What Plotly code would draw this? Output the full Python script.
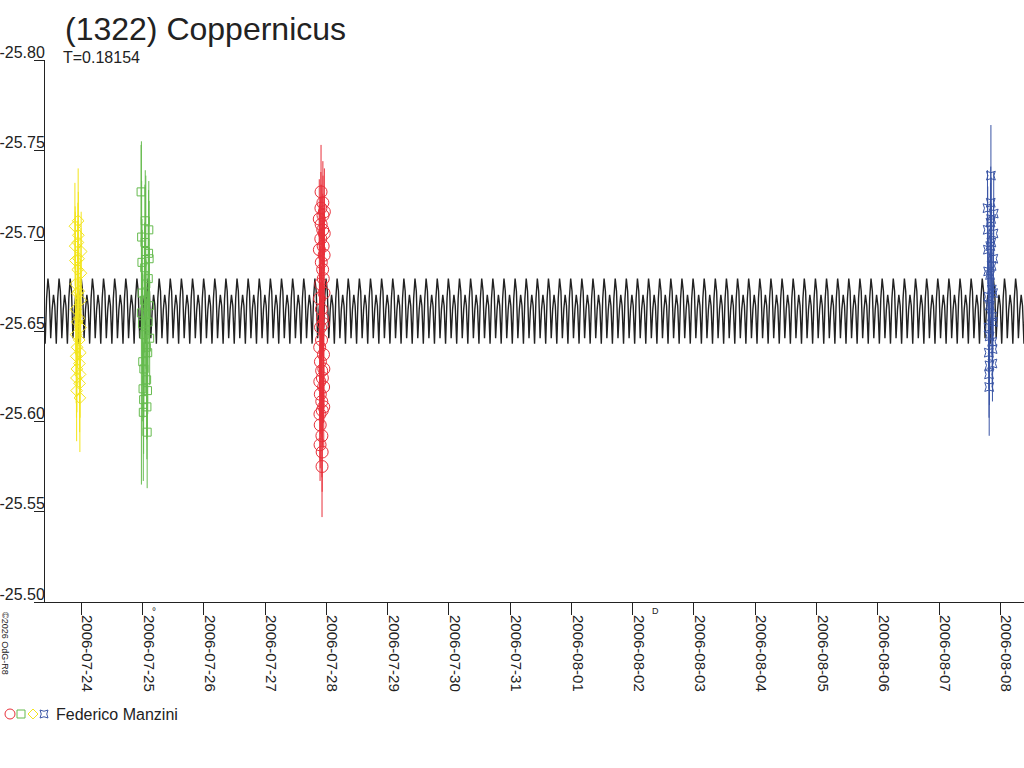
import pandas as pd
import plotly.graph_objects as go

# light curve data (days since 2006-07-24 00:00 UT, magnitudes, errors)
yellow_day = [-0.104, -0.100, -0.097, -0.093, -0.090, -0.086, -0.083, -0.079, -0.076, -0.072,
              -0.069, -0.065, -0.062, -0.058, -0.055, -0.051, -0.048, -0.044, -0.041, -0.037,
              -0.034, -0.030, -0.027, -0.023, -0.020, -0.016, -0.013, -0.009, -0.006, -0.002]
yellow_mag = [-25.708, -25.697, -25.689, -25.676, -25.662, -25.648, -25.636, -25.624, -25.617, -25.629,
              -25.641, -25.655, -25.671, -25.684, -25.699, -25.711, -25.703, -25.690, -25.672, -25.657,
              -25.645, -25.632, -25.621, -25.613, -25.626, -25.638, -25.652, -25.667, -25.682, -25.694]
yellow_err = [0.024, 0.022, 0.027, 0.021, 0.025, 0.023, 0.026, 0.022, 0.028, 0.024,
              0.021, 0.025, 0.023, 0.027, 0.022, 0.029, 0.024, 0.021, 0.026, 0.023,
              0.025, 0.022, 0.027, 0.030, 0.024, 0.021, 0.026, 0.023, 0.025, 0.022]

green_day = [0.976, 0.981, 0.985, 0.990, 0.994, 0.999, 1.003, 1.008, 1.012, 1.017,
             1.021, 1.026, 1.030, 1.035, 1.039, 1.044, 1.048, 1.053, 1.057, 1.062,
             1.066, 1.071, 1.075, 1.080, 1.084, 1.089, 1.093, 1.098, 1.102, 1.107,
             1.111, 1.116]
green_mag = [-25.727, -25.660, -25.702, -25.688, -25.671, -25.654, -25.633, -25.618, -25.605, -25.612,
             -25.629, -25.648, -25.667, -25.685, -25.699, -25.711, -25.694, -25.676, -25.659, -25.641,
             -25.623, -25.608, -25.594, -25.617, -25.638, -25.655, -25.679, -25.693, -25.706, -25.690,
             -25.664, -25.646]
green_err = [0.026, 0.095, 0.031, 0.024, 0.035, 0.028, 0.033, 0.026, 0.038, 0.030,
             0.027, 0.034, 0.029, 0.025, 0.032, 0.028, 0.036, 0.060, 0.030, 0.027,
             0.033, 0.029, 0.031, 0.026, 0.034, 0.028, 0.030, 0.035, 0.027, 0.032,
             0.029, 0.026]

red_day = [3.884, 3.886, 3.888, 3.891, 3.893, 3.895, 3.897, 3.899, 3.901, 3.903,
           3.905, 3.907, 3.909, 3.911, 3.913, 3.915, 3.917, 3.919, 3.921, 3.923,
           3.925, 3.927, 3.929, 3.931, 3.933, 3.935, 3.937, 3.939, 3.941, 3.943,
           3.945, 3.947, 3.949, 3.951, 3.953, 3.955, 3.957, 3.959, 3.961, 3.963,
           3.965, 3.967]
red_mag = [-25.712, -25.695, -25.668, -25.641, -25.622, -25.604, -25.587, -25.598, -25.615, -25.633,
           -25.652, -25.676, -25.701, -25.718, -25.727, -25.709, -25.688, -25.662, -25.645, -25.628,
           -25.611, -25.592, -25.575, -25.583, -25.606, -25.624, -25.657, -25.684, -25.706, -25.721,
           -25.714, -25.697, -25.679, -25.654, -25.637, -25.619, -25.608, -25.629, -25.671, -25.692,
           -25.704, -25.716]
red_err = [0.022, 0.025, 0.019, 0.023, 0.021, 0.026, 0.020, 0.024, 0.022, 0.018,
           0.025, 0.021, 0.023, 0.020, 0.026, 0.022, 0.019, 0.024, 0.021, 0.025,
           0.020, 0.023, 0.028, 0.022, 0.019, 0.024, 0.021, 0.025, 0.020, 0.023,
           0.022, 0.019, 0.024, 0.021, 0.026, 0.020, 0.023, 0.022, 0.019, 0.025,
           0.021, 0.024]

blue_day = [14.790, 14.794, 14.797, 14.801, 14.804, 14.808, 14.811, 14.815, 14.818, 14.822,
            14.825, 14.829, 14.832, 14.836, 14.839, 14.843, 14.846, 14.850, 14.853, 14.857,
            14.860, 14.864, 14.867, 14.871, 14.874, 14.878, 14.881, 14.885, 14.888, 14.892]
blue_mag = [-25.718, -25.706, -25.695, -25.683, -25.669, -25.652, -25.638, -25.626, -25.619, -25.631,
            -25.647, -25.664, -25.681, -25.697, -25.710, -25.721, -25.736, -25.712, -25.699, -25.686,
            -25.673, -25.658, -25.644, -25.632, -25.640, -25.655, -25.671, -25.690, -25.704, -25.715]
blue_err = [0.021, 0.024, 0.019, 0.023, 0.022, 0.025, 0.020, 0.024, 0.027, 0.022,
            0.019, 0.023, 0.021, 0.025, 0.022, 0.020, 0.028, 0.023, 0.021, 0.024,
            0.019, 0.022, 0.025, 0.021, 0.023, 0.020, 0.024, 0.022, 0.019, 0.023]

# fitted model: one cycle of the curve, repeated with period T
period = 0.18154
cycle_phase = [0.0, 0.12, 0.25, 0.38, 0.5, 0.62, 0.75, 0.88]
cycle_mag = [-25.679, -25.672, -25.646, -25.662, -25.670, -25.664, -25.643, -25.668]

y_ticks = [-25.80, -25.75, -25.70, -25.65, -25.60, -25.55, -25.50]

base = pd.Timestamp('2006-07-24')


def to_time(days):
    return base + pd.to_timedelta(pd.Series(days), unit='D')


model_day = []
model_mag = []
for k in range(-4, 90):
    for ph, m in zip(cycle_phase, cycle_mag):
        model_day.append((k + ph) * period)
        model_mag.append(m)

fig = go.Figure()

fig.add_trace(go.Scatter(x=to_time(model_day), y=model_mag, mode='lines',
                         line=dict(color='#222222', width=1.4), showlegend=False))

sessions = [
    (yellow_day, yellow_mag, yellow_err, '#f3e51c', 'diamond-open', 9),
    (green_day, green_mag, green_err, '#66bb4f', 'square-open', 8),
    (red_day, red_mag, red_err, '#e8303a', 'circle-open', 12),
    (blue_day, blue_mag, blue_err, '#3a55a5', 'star-square-open', 8),
]
for d, m, e, col, sym, sz in sessions:
    fig.add_trace(go.Scatter(
        x=to_time(d), y=m, mode='markers',
        marker=dict(symbol=sym, size=sz, color=col, line=dict(width=1, color=col)),
        error_y=dict(type='data', array=e, visible=True, color=col, thickness=1, width=0),
        showlegend=False))

# legend symbols drawn as small shapes below the chart
leg_y = (602 - 714) / 542
def px(x):
    return (x - 45) / 979

shapes = [
    dict(type='circle', xref='paper', yref='paper', xsizemode='pixel', ysizemode='pixel',
         xanchor=px(10), yanchor=leg_y, x0=-5, x1=5, y0=-5, y1=5,
         line=dict(color='#e8303a', width=1)),
    dict(type='rect', xref='paper', yref='paper', xsizemode='pixel', ysizemode='pixel',
         xanchor=px(21), yanchor=leg_y, x0=-4, x1=4, y0=-4, y1=4,
         line=dict(color='#66bb4f', width=1)),
    dict(type='path', xref='paper', yref='paper', xsizemode='pixel', ysizemode='pixel',
         xanchor=px(33), yanchor=leg_y, path='M 0,-5 L 5,0 L 0,5 L -5,0 Z',
         line=dict(color='#f3e51c', width=1)),
    dict(type='path', xref='paper', yref='paper', xsizemode='pixel', ysizemode='pixel',
         xanchor=px(44), yanchor=leg_y,
         path='M -4,-4 Q 0,-1.5 4,-4 Q 1.5,0 4,4 Q 0,1.5 -4,4 Q -1.5,0 -4,-4 Z',
         line=dict(color='#3a55a5', width=1)),
]

annotations = [
    dict(text='T=0.18154', xref='paper', yref='paper', x=px(61), y=(602 - 47) / 542,
         xanchor='left', yanchor='top', showarrow=False,
         font=dict(size=16, color='#222222')),
    dict(text='Federico Manzini', xref='paper', yref='paper', x=px(54), y=leg_y,
         xanchor='left', yanchor='middle', showarrow=False,
         font=dict(size=16, color='#222222')),
    dict(text='©2026 OdG-R8', xref='paper', yref='paper', x=px(5), y=(602 - 643) / 542,
         xanchor='center', yanchor='middle', textangle=90, showarrow=False,
         font=dict(size=9, color='#222222')),
    # moon phases
    dict(text='°', xref='x', yref='paper', x='2006-07-25 04:31', y=-0.004,
         yanchor='top', showarrow=False, font=dict(size=10, color='#222222')),
    dict(text='D', xref='x', yref='paper', x='2006-08-02 08:46', y=-0.004,
         yanchor='top', showarrow=False, font=dict(size=9, color='#222222')),
]

fig.update_layout(
    width=1024, height=768,
    margin=dict(l=45, r=0, t=60, b=166),
    paper_bgcolor='white', plot_bgcolor='white',
    font=dict(family='Liberation Sans, Arial, sans-serif', color='#222222'),
    title=dict(text='(1322) Coppernicus', x=65 / 1024, xanchor='left',
               y=1 - 18 / 768, yanchor='top', font=dict(size=32, color='#222222')),
    xaxis=dict(type='date', range=['2006-07-23 09:47', '2006-08-08 09:16'],
               tick0='2006-07-24', dtick=86400000, tickformat='%Y-%m-%d',
               tickangle=90, ticks='outside', ticklen=12, tickcolor='#222222',
               showline=True, linecolor='#222222', linewidth=1, showgrid=False,
               zeroline=False, tickfont=dict(size=15, color='#222222'),
               ticklabelshift=6, ticklabelstandoff=-3, automargin=False),
    yaxis=dict(range=[-25.50, -25.80], tickvals=y_ticks,
               ticktext=['%.2f' % v for v in y_ticks],
               ticks='outside', ticklen=10, tickcolor='#222222',
               showline=True, linecolor='#222222', linewidth=1, showgrid=False,
               zeroline=False, tickfont=dict(size=16, color='#222222'),
               ticklabelstandoff=-14, ticklabelshift=8, automargin=False),
    shapes=shapes,
    annotations=annotations,
    showlegend=False,
)

# drop the default 8px page margin so the figure fills the window
fig.write_html("out.html", config={'displayModeBar': False},
               post_script="document.body.style.margin = '0';")
